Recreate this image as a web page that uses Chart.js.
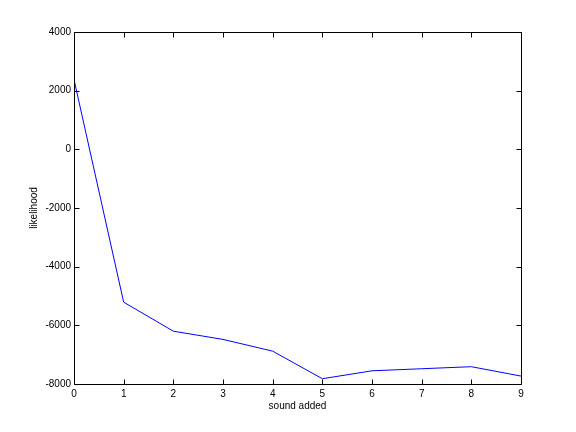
<!DOCTYPE html>
<html>
<head>
<meta charset="utf-8">
<script src="https://cdn.jsdelivr.net/npm/chart.js@4"></script>
<style>
  html, body { margin: 0; padding: 0; background: #fff; }
  #wrap { width: 576px; height: 432px; }
</style>
</head>
<body>
<div id="wrap"><canvas id="grafico" width="576" height="432"></canvas></div>
<script>
const ctx = document.getElementById('grafico');

// data
let soundAdded = [0, 1, 2, 3, 4, 5, 6, 7, 8, 9]
let likelihood = [2380, -5210, -6200, -6480, -6880, -7820, -7550, -7480, -7410, -7730]
let yTicks = [-8000, -6000, -4000, -2000, 0, 2000, 4000]

let pontos = soundAdded.map((s, i) => ({ x: s, y: likelihood[i] }))

const fonte = { family: 'Helvetica, "Liberation Sans", Arial, sans-serif', size: 10 }

// box round the plot and inward ticks, matlab style
const caixa = {
  id: 'caixa',
  afterDraw(chart) {
    const c = chart.ctx
    const a = chart.chartArea
    const xs = chart.scales.x, ys = chart.scales.y
    const L = Math.round(a.left) + 0.5, R = Math.round(a.right) + 0.5
    const T = Math.round(a.top) + 0.5, B = Math.round(a.bottom) + 0.5
    c.save()
    c.strokeStyle = '#000'
    c.lineWidth = 1
    c.beginPath()
    c.rect(L, T, R - L, B - T)
    soundAdded.forEach(v => {
      const px = Math.round(xs.getPixelForValue(v)) + 0.5
      c.moveTo(px, B); c.lineTo(px, B - 5)
      c.moveTo(px, T); c.lineTo(px, T + 5)
    })
    yTicks.forEach(v => {
      const py = Math.round(ys.getPixelForValue(v)) + 0.5
      c.moveTo(L, py); c.lineTo(L + 5, py)
      c.moveTo(R, py); c.lineTo(R - 5, py)
    })
    c.stroke()
    c.restore()
  }
}

let grafico = new Chart(ctx, {
  type: 'line',
  data: {
    datasets: [{
      data: pontos,
      borderColor: '#0000ff',
      borderWidth: 1,
      pointRadius: 0,
      tension: 0,
      fill: false
    }]
  },
  options: {
    responsive: false,
    animation: false,
    layout: { padding: { left: 24, top: 32, right: 55, bottom: 16 } },
    plugins: { legend: { display: false }, tooltip: { enabled: false } },
    scales: {
      x: {
        type: 'linear',
        min: 0, max: 9,
        grid: { display: false, drawTicks: false },
        border: { display: false },
        afterFit: s => { s.height = 32 },
        ticks: { stepSize: 1, color: '#000', font: fonte, padding: 4, maxRotation: 0,
                 callback: v => String(v) },
        title: { display: true, text: 'sound added', color: '#000', font: fonte, padding: { top: 0, bottom: 4 } }
      },
      y: {
        min: -8000, max: 4000,
        grid: { display: false, drawTicks: false },
        border: { display: false },
        afterFit: s => { s.width = 50 },
        ticks: { stepSize: 2000, color: '#000', font: fonte, padding: 3,
                 callback: v => String(v) },
        title: { display: true, text: 'likelihood', color: '#000', font: fonte, padding: { top: 4, bottom: 0 } }
      }
    }
  },
  plugins: [caixa]
});
</script>
</body>
</html>
